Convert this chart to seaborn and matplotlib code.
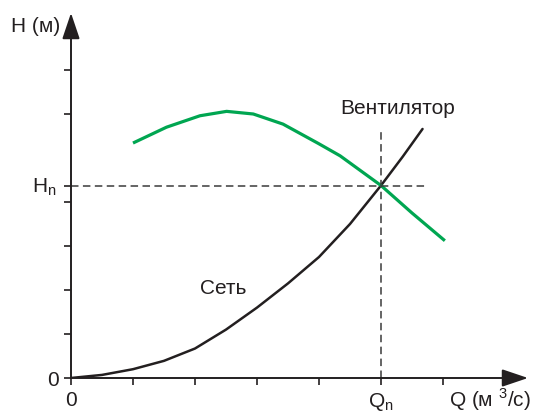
import matplotlib
matplotlib.use("Agg")
import matplotlib.pyplot as plt
import seaborn as sns
import pandas as pd

# Network (Сеть) characteristic
q_net = [0, 0.5, 1.0, 1.5, 2.0, 2.5, 3.0, 3.5, 4.0, 4.5, 5.0, 5.35, 5.67]
h_net = [0, 0.07, 0.20, 0.39, 0.67, 1.10, 1.60, 2.15, 2.75, 3.50, 4.375, 5.03, 5.66]

# Fan (Вентилятор) characteristic
q_fan = [1.0, 1.54, 2.08, 2.51, 2.94, 3.42, 3.99, 4.34, 5.0, 5.5, 6.03]
h_fan = [5.34, 5.70, 5.96, 6.06, 6.00, 5.77, 5.33, 5.05, 4.375, 3.75, 3.12]

q_n = 5.0
h_n = 4.375
x_ticks = [0, 1, 2, 3, 4, 5, 6]
x_ticklabels = ["0", "", "", "", "", r"Q$_\mathregular{n}$", ""]
y_ticks = [0, 1, 2, 3, 4, h_n, 6, 7]
y_ticklabels = ["0", "", "", "", "", "", "", ""]

AXIS_COLOR = "#231f20"
DASH_COLOR = "#3a3a3a"
GREEN = "#00a651"
FS = 15

sns.set_style("white")
plt.rcParams["font.family"] = ["Liberation Sans", "DejaVu Sans"]

fig = plt.figure(figsize=(5.33, 4.14), dpi=100)
ax = fig.add_axes([71 / 533, 35 / 414, (528 - 71) / 533, (379 - 14) / 414])
ax.set_xlim(0, (528 - 71) / 62)
ax.set_ylim(0, (379 - 14) / 44)
for s in ax.spines.values():
    s.set_visible(False)

net = pd.DataFrame({"Q": q_net, "H": h_net})
fan = pd.DataFrame({"Q": q_fan, "H": h_fan})
sns.lineplot(data=net, x="Q", y="H", color=AXIS_COLOR, lw=1.8, ax=ax)
sns.lineplot(data=fan, x="Q", y="H", color=GREEN, lw=2.3, ax=ax, solid_capstyle="butt")

# operating point guides
dash = (0, (4.9, 2.9))
ax.plot([0, (427 - 71) / 62], [h_n, h_n], color=DASH_COLOR, lw=1.1, ls=dash)
ax.plot([q_n, q_n], [0, (379 - 133) / 44], color=DASH_COLOR, lw=1.1, ls=dash)

# axes with arrowheads
arrow = dict(arrowstyle="-|>,head_length=0.8,head_width=0.27", lw=1.4,
             color=AXIS_COLOR, mutation_scale=20, shrinkA=0, shrinkB=0)
ax.annotate("", xy=(ax.get_xlim()[1], 0), xytext=(0, 0), arrowprops=arrow,
            annotation_clip=False)
ax.annotate("", xy=(0, ax.get_ylim()[1]), xytext=(0, 0), arrowprops=arrow,
            annotation_clip=False)

ax.set_xticks(x_ticks)
ax.set_xticklabels(x_ticklabels)
ax.set_yticks(y_ticks)
ax.set_yticklabels(y_ticklabels)
ax.tick_params(direction="out", length=5, width=1.2, color=AXIS_COLOR, pad=4,
               labelsize=FS, labelcolor=AXIS_COLOR, bottom=True, left=True)
ax.set_xlabel("")
ax.set_ylabel("")

ax.text((11 - 71) / 62, (379 - 32) / 44, "H (м)", fontsize=FS, color=AXIS_COLOR,
        ha="left", va="baseline", clip_on=False)
ax.text((57 - 71) / 62, (379 - 192) / 44, r"H$_\mathregular{n}$", fontsize=FS,
        color=AXIS_COLOR, ha="right", va="baseline", clip_on=False)
ax.text((531 - 71) / 62, -(407 - 379) / 44, r"Q (м $^\mathregular{3}$/с)", fontsize=FS,
        color=AXIS_COLOR, ha="right", va="baseline", clip_on=False)
ax.text((398 - 71) / 62, (379 - 109) / 44, "Вентилятор", fontsize=FS,
        color=AXIS_COLOR, ha="center", va="center")
ax.text((223 - 71) / 62, (379 - 289) / 44, "Сеть", fontsize=FS,
        color=AXIS_COLOR, ha="center", va="center")

fig.savefig("out.png", dpi=100)
